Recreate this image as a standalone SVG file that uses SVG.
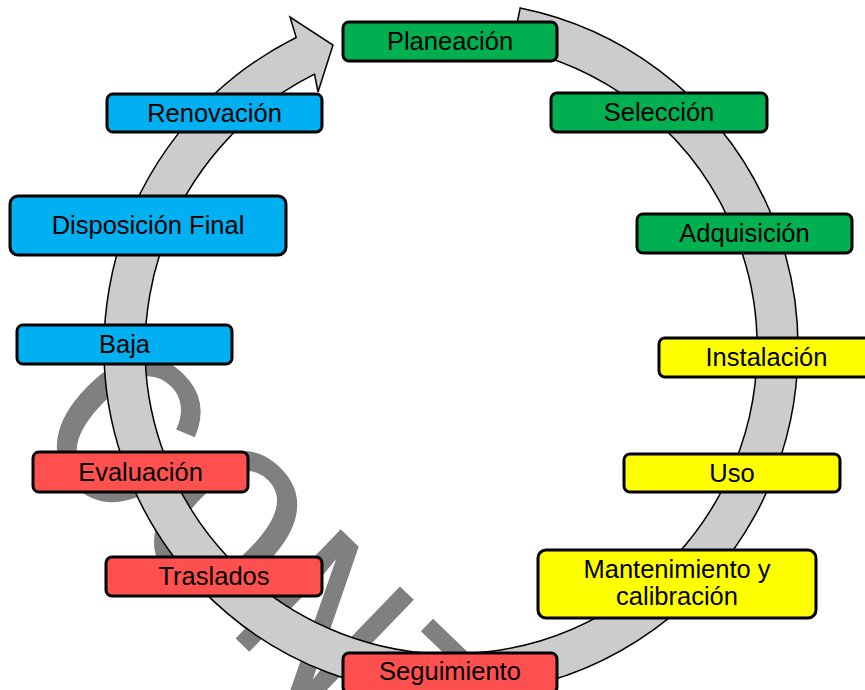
<svg xmlns="http://www.w3.org/2000/svg" width="865" height="690" viewBox="0 0 865 690">
<style>
.box{stroke:#000;stroke-width:3}
.g{fill:#00b050}.b{fill:#00b0f0}.y{fill:#ffff00}.r{fill:#ff5050}
.t{font-family:"Liberation Sans",Arial,sans-serif;font-size:25.5px;fill:#000;text-anchor:middle}
.wm{font-family:"Liberation Mono","Courier New",monospace;font-size:230px;fill:#808080}
</style>
<rect width="865" height="690" fill="#fff"/>
<g id="watermark">
<text class="wm" transform="translate(24,434) rotate(44)">CONTROLADA</text>
</g>
<g id="connectors">
<path d="M520.2 8 A347 347 0 1 1 296.2 37.5 L290 17 L333 45 L318 92 L314.5 74.2 A306 306 0 1 0 512 48.1 Z" fill="#cccccc" stroke="#000" stroke-width="1.5" stroke-linejoin="miter"/>
</g>
<g id="planeacion"><rect class="box g" x="343" y="22" width="214" height="39" rx="6"/><text class="t" x="450" y="50">Planeación</text></g>
<g id="seleccion"><rect class="box g" x="551" y="93" width="216" height="39" rx="6"/><text class="t" x="659" y="121">Selección</text></g>
<g id="adquisicion"><rect class="box g" x="637" y="214" width="215" height="39" rx="6"/><text class="t" x="744.5" y="242">Adquisición</text></g>
<g id="instalacion"><rect class="box y" x="659" y="338" width="215" height="39" rx="6"/><text class="t" x="766.5" y="366">Instalación</text></g>
<g id="uso"><rect class="box y" x="624" y="454" width="216" height="38" rx="6"/><text class="t" x="732" y="481.5">Uso</text></g>
<g id="mantenimiento"><rect class="box y" x="538" y="550" width="278" height="68" rx="8"/><text class="t" x="677" y="578">Mantenimiento y</text><text class="t" x="677" y="605">calibración</text></g>
<g id="seguimiento"><rect class="box r" x="343" y="653" width="214" height="40" rx="6"/><text class="t" x="450" y="680">Seguimiento</text></g>
<g id="traslados"><rect class="box r" x="106" y="557" width="216" height="39" rx="6"/><text class="t" x="214" y="585">Traslados</text></g>
<g id="evaluacion"><rect class="box r" x="33" y="452" width="215" height="40" rx="6"/><text class="t" x="140.5" y="480.5">Evaluación</text></g>
<g id="baja"><rect class="box b" x="17" y="325" width="215" height="39" rx="6"/><text class="t" x="124.5" y="353">Baja</text></g>
<g id="disposicion"><rect class="box b" x="10" y="196" width="276" height="59" rx="8"/><text class="t" x="148" y="234">Disposición Final</text></g>
<g id="renovacion"><rect class="box b" x="107" y="94" width="215" height="38" rx="6"/><text class="t" x="214.5" y="121.5">Renovación</text></g>
</svg>
